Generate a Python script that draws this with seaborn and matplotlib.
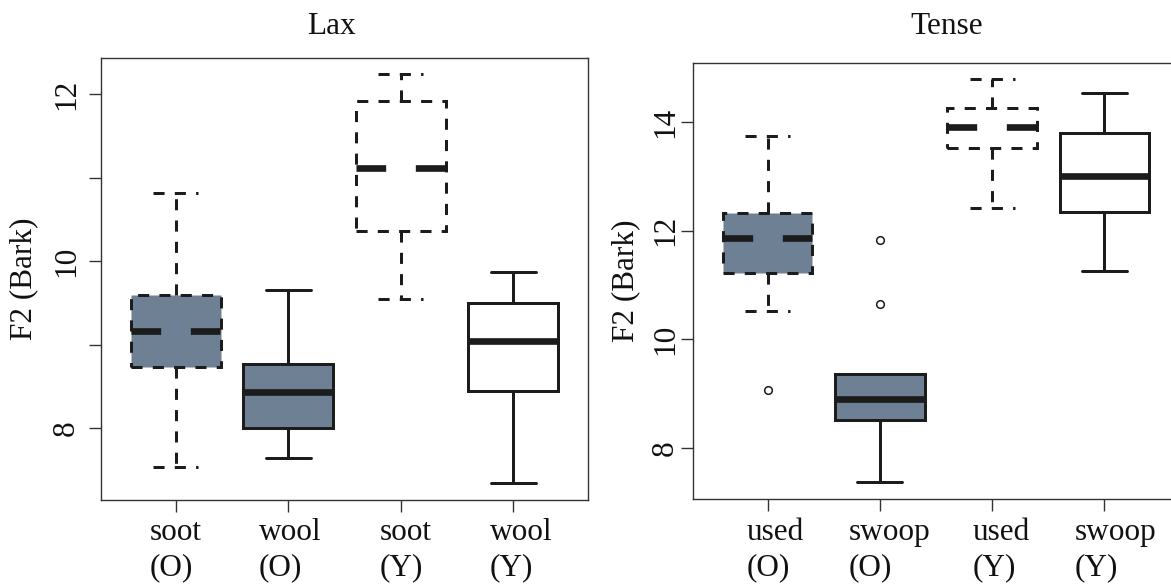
import numpy as np
import pandas as pd
import matplotlib
matplotlib.use("Agg")
import matplotlib.pyplot as plt
import matplotlib.transforms as mtransforms
import seaborn as sns

# ---------------- data ----------------
# Lax panel
lax_words = ["soot", "wool", "soot", "wool"]
lax_groups = ["(O)", "(O)", "(Y)", "(Y)"]
lax_low = [7.54, 7.64, 9.55, 7.34]
lax_q1 = [8.73, 8.00, 10.36, 8.45]
lax_med = [9.16, 8.43, 11.11, 9.04]
lax_q3 = [9.60, 8.77, 11.92, 9.50]
lax_high = [10.82, 9.66, 12.24, 9.87]
lax_out_low = [[], [], [], []]
lax_out_high = [[], [], [], []]
lax_yticks = [8, 9, 10, 11, 12]
lax_yticklabels = ["8", "", "10", "", "12"]

# Tense panel
tense_words = ["used", "swoop", "used", "swoop"]
tense_groups = ["(O)", "(O)", "(Y)", "(Y)"]
tense_low = [10.51, 7.36, 12.42, 11.26]
tense_q1 = [11.22, 8.51, 13.53, 12.34]
tense_med = [11.87, 8.89, 13.90, 13.01]
tense_q3 = [12.32, 9.35, 14.26, 13.79]
tense_high = [13.75, 9.35, 14.80, 14.53]
tense_out_low = [[9.07], [], [], []]
tense_out_high = [[], [10.65, 11.83], [], []]
tense_yticks = [8, 10, 12, 14]
tense_yticklabels = ["8", "10", "12", "14"]

titles = ["Lax", "Tense"]
ylabel = "F2 (Bark)"

# ---------------- style ----------------
SLATE = "#6E8093"
INK = "#1c1c1c"
SPINE = "#333333"
box_fill = [SLATE, SLATE, "white", "white"]
box_dashed = [True, False, True, False]
LW = 2.16
MLW = 4.8
DASH = (0, (3.7, 3.4))
MED_DASH = (0, (4.45, 4.45))
FS = 22.5

sns.set_theme(style="ticks")
plt.rcParams["font.family"] = ["Liberation Serif", "DejaVu Serif"]
plt.rcParams["axes.edgecolor"] = SPINE
plt.rcParams["axes.linewidth"] = 1.0


def observations(lo, q1, med, q3, hi, out_lo, out_hi):
    """Nine observations whose quartiles / whiskers equal the read values."""
    low_part = (sorted(out_lo) + [lo, lo])[:2]
    high_part = ([hi, hi] + sorted(out_hi))[-2:]
    return low_part + [q1, q1, med, q3, q3] + high_part


W, H = 1171, 585
fig = plt.figure(figsize=(W / 100, H / 100), dpi=100)
ax1 = fig.add_axes([101 / W, (H - 500) / H, 487 / W, 441.7 / H])
ax2 = fig.add_axes([693 / W, (H - 499) / H, 486 / W, 436 / H])


def draw_panel(ax, words, groups, lo, q1, med, q3, hi, out_lo, out_hi,
               yticks, yticklabels, ylim, label_dx, label_dy, ypad, ylab_x):
    cats = [f"{w}\n{g}" for w, g in zip(words, groups)]
    for i, c in enumerate(cats):
        vals = observations(lo[i], q1[i], med[i], q3[i], hi[i], out_lo[i], out_hi[i])
        df = pd.DataFrame({"cat": [c] * len(vals), "F2": vals})
        ls = DASH if box_dashed[i] else "solid"
        mls = MED_DASH if box_dashed[i] else "solid"
        has_out = bool(out_lo[i]) or bool(out_hi[i])
        sns.boxplot(
            data=df, x="cat", y="F2", order=cats, ax=ax,
            color=box_fill[i], saturation=1, width=0.8,
            linecolor=INK, linewidth=LW,
            whis=1.5 if has_out else np.inf,
            fliersize=5.5,
            boxprops=dict(linestyle=ls, linewidth=LW, edgecolor=INK),
            whiskerprops=dict(linestyle=ls, linewidth=LW, color=INK),
            capprops=dict(linestyle=ls, linewidth=LW, color=INK),
            medianprops=dict(linestyle=mls, linewidth=MLW, color=INK,
                             solid_capstyle="butt"),
            flierprops=dict(marker="o", markerfacecolor="none",
                            markeredgecolor=INK, markeredgewidth=1.1),
        )
    ax.set_xlim(-0.664, 3.664)
    ax.set_ylim(*ylim)
    ax.set_xticks(range(len(cats)))
    ax.set_xticklabels([""] * len(cats))
    ax.set_yticks(yticks)
    ax.set_yticklabels(yticklabels)
    ax.set_xlabel("")
    ax.set_ylabel(ylabel, fontsize=FS, color="#111111")
    ax.yaxis.set_label_coords(ylab_x, 0.5)
    ax.tick_params(axis="both", direction="out", length=8.4, width=1.0,
                   color=SPINE, labelsize=FS, labelcolor="#111111")
    ax.tick_params(axis="y", labelrotation=90, pad=ypad)
    for lab in ax.get_yticklabels():
        lab.set_va("center")
    for s in ax.spines.values():
        s.set_color(SPINE)
        s.set_linewidth(1.0)
    base = mtransforms.blended_transform_factory(ax.transData, ax.transAxes)
    for i, (w, g) in enumerate(zip(words, groups)):
        for txt, dy in ((w, label_dy[0]), (g, label_dy[1])):
            tr = base + mtransforms.ScaledTranslation(label_dx[i] / 100, dy / 100,
                                                      fig.dpi_scale_trans)
            ax.text(i, 0, txt, transform=tr, ha="left", va="baseline",
                    fontsize=FS, color="#111111", clip_on=False)


draw_panel(ax1, lax_words, lax_groups, lax_low, lax_q1, lax_med, lax_q3, lax_high,
           lax_out_low, lax_out_high, lax_yticks, lax_yticklabels, (7.142, 12.427),
           label_dx=[-26, -29.7, -20.7, -23.3], label_dy=(-40, -75), ypad=6,
           ylab_x=(38.5 - 101) / 487)
draw_panel(ax2, tense_words, tense_groups, tense_low, tense_q1, tense_med, tense_q3,
           tense_high, tense_out_low, tense_out_high, tense_yticks, tense_yticklabels,
           (7.055, 15.087),
           label_dx=[-21.3, -31, -20, -29.7], label_dy=(-41, -76), ypad=1,
           ylab_x=(640 - 693) / 486)

fig.text(331 / W, 1 - 34 / H, titles[0], ha="center", va="baseline",
         fontsize=FS, color="#111111")
fig.text(947 / W, 1 - 34 / H, titles[1], ha="center", va="baseline",
         fontsize=FS, color="#111111")

fig.savefig("out.png", dpi=100)
